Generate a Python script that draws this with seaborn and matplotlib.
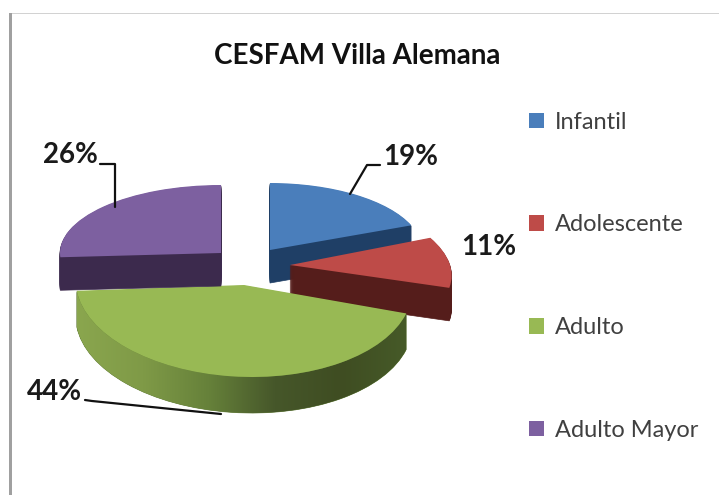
import matplotlib
matplotlib.use('Agg')
import matplotlib.pyplot as plt
import matplotlib.patches as mpatches
from matplotlib.path import Path
from matplotlib.transforms import Affine2D
import numpy as np
import seaborn as sns

# Data
labels = ['Infantil', 'Adolescente', 'Adulto', 'Adulto Mayor']
values = [19, 11, 44, 26]
pct_labels = ['19%', '11%', '44%', '26%']

top_colors = ['#4a7ebb', '#be4b48', '#98b954', '#7d60a0']
side_colors = ['#1f3f66', '#551d1b', '#5f7a35', '#3c2a4d']
green_side = ['#8aa64e', '#7f9a47', '#66813a', '#46572a', '#3f4d22', '#465a28']

# placement of each slice in picture pixels: apex x, apex y, x radius, x shear, y radius
placement = [
    (270, 250, 152, 0, 67),
    (290, 265, 160, -23, 74),
    (244, 285, 168, -8, 92),
    (221, 253, 161, 0, 68),
]
depths = [33, 33, 36, 33]
draw_order = [0, 1, 2, 3]

sns.set_theme(style='white')
plt.rcParams['font.family'] = ['Lato', 'DejaVu Sans']

fig = plt.figure(figsize=(7.19, 4.95), dpi=100)
ax = fig.add_axes([0, 0, 1, 1])

wedges, _ = ax.pie(values, startangle=90, counterclock=False, colors=top_colors)


def slice_matrix(i, shift=0):
    cx, cy, rx, shear, ry = placement[i]
    return Affine2D(np.array([[rx, shear, cx], [0, -ry, cy + shift], [0, 0, 1]], dtype=float))


# side walls first, the top face goes over them
for i in draw_order:
    z = 2 + i * 2
    for shift in range(1, depths[i] + 1):
        ax.add_patch(mpatches.PathPatch(wedges[i].get_path(), facecolor=side_colors[i], edgecolor=side_colors[i],
                                        lw=0.5, zorder=z, transform=slice_matrix(i, shift) + ax.transData))
    wedges[i].set_transform(slice_matrix(i) + ax.transData)
    wedges[i].set_zorder(z + 1)
    wedges[i].set_edgecolor('none')

# green wall has a left to right shading
t = np.radians(np.linspace(wedges[2].theta1, wedges[2].theta2, 80))
arc = np.column_stack([np.cos(t), np.sin(t)])
wall = np.vstack([slice_matrix(2).transform(arc), slice_matrix(2, depths[2]).transform(arc)[::-1]])
clip = mpatches.PathPatch(Path(np.vstack([wall, wall[:1]])), transform=ax.transData, facecolor='none', edgecolor='none')
ax.add_patch(clip)
img = ax.imshow(np.linspace(0, 1, 256).reshape(1, -1), cmap=sns.blend_palette(green_side[::-1], as_cmap=True), aspect='auto',
                extent=(wall[:, 0].max(), wall[:, 0].min(), wall[:, 1].max(), wall[:, 1].min()), zorder=6.5)
img.set_clip_path(clip)

# leader lines
ax.plot([380, 367, 350], [165, 165, 194], color='#111111', lw=1.6, zorder=12)
ax.plot([100, 115, 115], [164, 164, 207], color='#111111', lw=1.6, zorder=12)
ax.plot([85, 92, 221], [400, 401, 414], color='#111111', lw=1.6, zorder=12)

ax.text(411, 157, pct_labels[0], ha='center', va='center', fontsize=20, fontweight='bold', color='#1a1a1a', zorder=13)
ax.text(489, 247, pct_labels[1], ha='center', va='center', fontsize=20, fontweight='bold', color='#1a1a1a', zorder=13)
ax.text(54, 392, pct_labels[2], ha='center', va='center', fontsize=20, fontweight='bold', color='#1a1a1a', zorder=13)
ax.text(70, 155, pct_labels[3], ha='center', va='center', fontsize=20, fontweight='bold', color='#1a1a1a', zorder=13)

ax.text(357, 56, 'CESFAM Villa Alemana', ha='center', va='center', fontsize=20, fontweight='bold', color='#111111')

# page edge of the original screenshot
ax.add_patch(mpatches.Rectangle((9, 13), 3, 482, facecolor='#a0a0a0', edgecolor='none'))
ax.add_patch(mpatches.Rectangle((12, 13), 707, 1, facecolor='#d2d2d2', edgecolor='none'))

ax.legend(wedges, labels, loc='upper left', bbox_to_anchor=(0.7357, 0.7745), frameon=False, fontsize=17,
          labelcolor='#404040', handlelength=0.64, handleheight=0.64, handletextpad=0.47, labelspacing=3.46,
          borderpad=0, borderaxespad=0)

ax.set_xlim(0, 719)
ax.set_ylim(495, 0)
ax.set_aspect('auto')
ax.set_axis_off()

fig.savefig('out.png', dpi=100)
